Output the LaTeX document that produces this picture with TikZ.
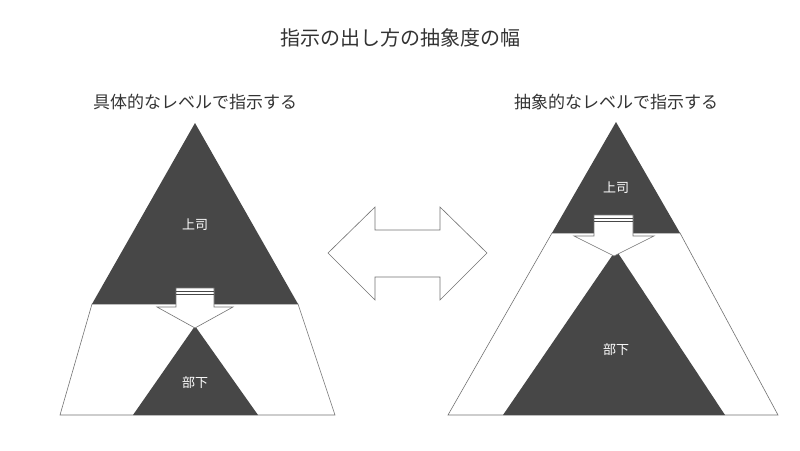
\documentclass[tikz,border=0pt]{standalone}
\usepackage{fontspec}
\setmainfont{Noto Sans CJK JP}
\begin{document}
\begin{tikzpicture}[x=1pt,y=-1pt,
  dark/.style={fill=black!72,draw=black!72},
  band/.style={fill=white,draw=black!55,line width=0.6pt},
  lbl/.style={text=white,font=\fontsize{13}{15}\selectfont},
  head/.style={text=black!80,font=\fontsize{17}{20}\selectfont},
  arr/.style={fill=white,draw=black!55,line width=0.6pt}]
\useasboundingbox (0,0) rectangle (800,450);
\node[text=black!80,font=\fontsize{20}{24}\selectfont] (title) at (400,38) {指示の出し方の抽象度の幅};
\node[head] (hl) at (195,102) {具体的なレベルで指示する};
\node[head] (hr) at (616,102) {抽象的なレベルで指示する};
% left
\draw[band] (92,304) -- (298,304) -- (335,415) -- (60,415) -- cycle;
\fill[black!72] (195,123) -- (298,304) -- (92,304) -- cycle;
\fill[black!72] (195,326) -- (258,415) -- (133,415) -- cycle;
\draw[arr] (176,288) -- (214,288) -- (214,307) -- (233,307) -- (195,328) -- (157,307) -- (176,307) -- cycle;
\draw[black!72,line width=0.8pt] (176,291) -- (214,291) (176,294) -- (214,294);
\node[lbl] (b1) at (195,225) {上司};
\node[lbl] (s1) at (195,383) {部下};
% right
\draw[band] (552,233) -- (680,233) -- (778,415) -- (448,415) -- cycle;
\fill[black!72] (616,122) -- (680,233) -- (552,233) -- cycle;
\fill[black!72] (616,250) -- (725,415) -- (503,415) -- cycle;
\draw[arr] (594,215) -- (633,215) -- (633,236) -- (654,236) -- (614,256) -- (574,236) -- (594,236) -- cycle;
\draw[black!72,line width=0.8pt] (594,218) -- (633,218) (594,221) -- (633,221);
\node[lbl] (b2) at (616,188) {上司};
\node[lbl] (s2) at (616,350) {部下};
% double arrow
\draw[arr] (328,253) -- (375,207) -- (375,230) -- (440,230) -- (440,207) -- (487,253) -- (440,300) -- (440,277) -- (375,277) -- (375,300) -- cycle;
\end{tikzpicture}
\end{document}
